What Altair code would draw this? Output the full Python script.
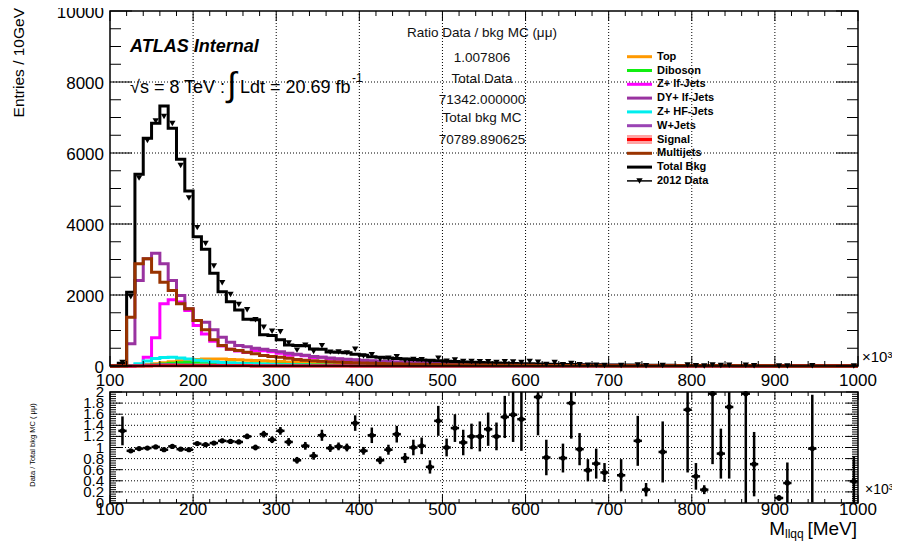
import altair as alt
import pandas as pd
import numpy as np

# ---------------- data ----------------
BIN_LOW = list(range(100, 1000, 10))          # 10 GeV bins, 100 .. 1000 (x10^3 MeV)
BIN_CENTER = [b + 5 for b in BIN_LOW]

TOTAL_BKG = [
    0, 75, 2076, 5400, 6414, 6836, 7324, 6695, 5822, 4930,
    3643, 3286, 2610, 2094, 1812, 1577, 1320, 1300, 880, 860,
    740, 590, 580, 570, 480, 470, 395, 385, 370, 330,
    300, 260, 245, 225, 210, 195, 180, 170, 160, 150,
    135, 125, 115, 105, 98, 90, 84, 77, 70, 64,
    60, 55, 50, 47, 44, 40, 37, 35, 33, 31,
    29, 27, 25, 23, 22, 20, 19, 18, 17, 16,
    15, 14, 13, 12, 11, 10, 10, 9, 9, 8,
    8, 7, 7, 6, 6, 6, 5, 5, 5, 4]

DATA_2012 = [
    None, 98, 1951, 5292, 6350, 6904, 7031, 6829, 5647, 4733,
    3898, 3450, 2819, 2345, 2011, 1735, 1584, 1300, 1091, 980,
    962, 649, 447, 587, 408, 573, 391, 393, 370, 475,
    282, 317, 189, 216, 260, 158, 180, 175, 104, 222,
    135, 169, 125, 126, 118, 120, 101, 119, 111, 97,
    130, 105, 41, 100, 36, 72, 36, 21, 23, 17,
    None, 14, None, 26, 5, None, 17, None, None, 27,
    7, 3, 26, 11, 19, None, 20, 6, None, None,
    1, 3, None, None, 6, None, None, None, None, 2]

MULTIJETS = [
    0, 0, 1375, 2878, 3019, 2643, 2361, 2127, 1752, 1610,
    1282, 1020, 738, 577, 470, 440, 390, 343, 296, 268,
    249, 215, 185, 165, 150, 135, 120, 110, 100, 92,
    85, 78, 72, 66, 61, 56, 52, 48, 44, 41,
    38, 35, 32, 30, 28, 26, 24, 22, 21, 19,
    18, 17, 16, 15, 14, 13, 12, 12, 11, 10,
    10, 9, 9, 8, 8, 8, 7, 7, 7, 6,
    6, 6, 5, 5, 5, 5, 4, 4, 4, 4,
    3, 3, 3, 3, 3, 3, 2, 2, 2, 2]

DY_LF = [
    0, 30, 625, 2408, 3019, 3178, 2878, 2408, 1986, 1610,
    1282, 1234, 1020, 811, 671, 577, 540, 500, 470, 440,
    400, 360, 330, 300, 270, 245, 225, 205, 190, 175,
    160, 148, 136, 125, 115, 106, 98, 90, 83, 77,
    71, 66, 61, 56, 52, 48, 45, 42, 39, 36,
    34, 32, 30, 28, 26, 24, 23, 21, 20, 19,
    18, 17, 16, 15, 14, 13, 12, 12, 11, 10,
    10, 9, 9, 8, 8, 7, 7, 7, 6, 6,
    6, 5, 5, 5, 5, 4, 4, 4, 4, 3]

Z_LF = [
    0, 0, 0, 30, 250, 794, 1752, 1864, 1800, 1560,
    1140, 900, 700, 560, 470, 420, 380, 440, 430, 400,
    360, 300, 320, 290, 240, 250, 200, 190, 180, 160,
    145, 135, 125, 115, 105, 97, 90, 83, 77, 71,
    65, 60, 56, 52, 48, 44, 41, 38, 35, 33,
    31, 29, 27, 25, 23, 22, 20, 19, 18, 17,
    16, 15, 14, 13, 12, 12, 11, 10, 10, 9,
    9, 8, 8, 8, 7, 7, 6, 6, 6, 6,
    5, 5, 5, 5, 4, 4, 4, 4, 4, 3]

TOP = [
    0, 0, 5, 15, 35, 60, 90, 120, 150, 170,
    185, 195, 200, 195, 185, 175, 165, 155, 145, 135,
    125, 115, 106, 98, 90, 83, 76, 70, 64, 59,
    54, 50, 46, 42, 39, 36, 33, 30, 28, 26,
    24, 22, 20, 19, 17, 16, 15, 14, 13, 12,
    11, 10, 10, 9, 8, 8, 7, 7, 6, 6,
    6, 5, 5, 5, 4, 4, 4, 4, 3, 3,
    3, 3, 3, 2, 2, 2, 2, 2, 2, 2,
    2, 2, 1, 1, 1, 1, 1, 1, 1, 1]

Z_HF = [
    0, 0, 15, 60, 140, 210, 240, 245, 225, 195,
    165, 140, 118, 100, 85, 72, 62, 54, 47, 41,
    36, 32, 28, 25, 22, 20, 18, 16, 14, 13,
    12, 11, 10, 9, 8, 8, 7, 7, 6, 6,
    5, 5, 5, 4, 4, 4, 3, 3, 3, 3,
    3, 3, 2, 2, 2, 2, 2, 2, 2, 2,
    2, 2, 1, 1, 1, 1, 1, 1, 1, 1,
    1, 1, 1, 1, 1, 1, 1, 1, 1, 1,
    1, 1, 1, 1, 1, 1, 0, 0, 0, 0]

DIBOSON = [
    0, 0, 2, 8, 20, 35, 55, 75, 90, 100,
    105, 105, 100, 95, 88, 80, 72, 65, 58, 52,
    47, 42, 38, 34, 30, 27, 24, 22, 20, 18,
    16, 15, 14, 13, 12, 11, 10, 9, 8, 8,
    7, 7, 6, 6, 5, 5, 5, 4, 4, 4,
    4, 3, 3, 3, 3, 3, 2, 2, 2, 2,
    2, 2, 2, 2, 2, 1, 1, 1, 1, 1,
    1, 1, 1, 1, 1, 1, 1, 1, 1, 1,
    1, 1, 1, 1, 1, 1, 1, 1, 1, 1]

W_JETS = [
    0, 0, 3, 10, 20, 28, 32, 33, 30, 27,
    24, 21, 18, 16, 14, 12, 11, 10, 9, 8,
    7, 7, 6, 6, 5, 5, 4, 4, 4, 3,
    3, 3, 3, 3, 2, 2, 2, 2, 2, 2,
    2, 2, 1, 1, 1, 1, 1, 1, 1, 1,
    1, 1, 1, 1, 1, 1, 1, 1, 1, 1,
    1, 1, 1, 1, 1, 1, 1, 1, 1, 1,
    0, 0, 0, 0, 0, 0, 0, 0, 0, 0,
    0, 0, 0, 0, 0, 0, 0, 0, 0, 0]

SIGNAL = [
    0, 0, 1, 2, 3, 4, 4, 4, 4, 4,
    4, 4, 4, 4, 4, 4, 4, 3, 3, 3,
    3, 3, 3, 3, 3, 3, 3, 3, 3, 3,
    2, 2, 2, 2, 2, 2, 2, 2, 2, 2,
    2, 2, 2, 2, 2, 2, 2, 2, 2, 2,
    1, 1, 1, 1, 1, 1, 1, 1, 1, 1,
    1, 1, 1, 1, 1, 1, 1, 1, 1, 1,
    1, 1, 1, 1, 1, 1, 1, 1, 1, 1,
    1, 1, 1, 1, 1, 1, 1, 1, 1, 1]

RATIO = [
    None, 1.30, 0.94, 0.98, 0.99, 1.01, 0.96, 1.02, 0.97, 0.96,
    1.07, 1.05, 1.08, 1.12, 1.11, 1.10, 1.20, 1.00, 1.24, 1.14,
    1.30, 1.10, 0.77, 1.03, 0.85, 1.22, 0.99, 1.02, 1.00, 1.44,
    0.94, 1.22, 0.77, 0.96, 1.24, 0.81, 1.00, 1.03, 0.65, 1.48,
    1.00, 1.35, 1.09, 1.20, 1.20, 1.33, 1.20, 1.55, 1.59, 1.51,
    None, 1.91, 0.82, None, 0.81, 1.80, 0.97, 0.59, 0.71, 0.55,
    None, 0.50, None, 1.12, 0.24, None, 0.92, None, None, 1.68,
    0.48, 0.24, 1.97, 0.89, 1.73, None, 1.97, 0.70, None, None,
    0.09, 0.36, None, None, 0.98, None, None, None, None, 0.39]

RATIO_ERR = [
    None, 0.26, 0.03, 0.02, 0.02, 0.02, 0.02, 0.02, 0.02, 0.02,
    0.03, 0.03, 0.03, 0.04, 0.04, 0.04, 0.05, 0.05, 0.06, 0.06,
    0.07, 0.07, 0.06, 0.07, 0.07, 0.10, 0.07, 0.07, 0.07, 0.14,
    0.07, 0.14, 0.07, 0.09, 0.15, 0.09, 0.14, 0.15, 0.12, 0.27,
    0.16, 0.25, 0.23, 0.23, 0.27, 0.30, 0.25, 0.38, 0.49, 0.57,
    None, 0.69, 0.32, None, 0.26, 0.64, 0.29, 0.20, 0.27, 0.17,
    None, 0.29, None, 0.45, 0.12, None, 0.55, None, None, 1.13,
    0.24, 0.08, 1.27, 0.45, 1.29, None, 2.00, 0.58, None, None,
    0.05, 0.37, None, None, 0.97, None, None, None, None, 0.45]

for arr in [TOTAL_BKG, DATA_2012, MULTIJETS, DY_LF, Z_LF, TOP, Z_HF, DIBOSON, W_JETS, SIGNAL, RATIO, RATIO_ERR]:
    assert len(arr) == len(BIN_LOW)

LEGEND_NAMES = ["Top", "Diboson", "Z+ lf-Jets", "DY+ lf-Jets", "Z+ HF-Jets", "W+Jets",
                "Signal", "Multijets", "Total Bkg", "2012 Data"]
INFO_LINES = ["Ratio Data / bkg MC (\u03bc\u03bc)", "1.007806", "Total Data", "71342.000000",
              "Total bkg MC", "70789.890625"]
X_TICKS = [100, 200, 300, 400, 500, 600, 700, 800, 900, 1000]
X_LABELS = ["100", "200", "300", "400", "500", "600", "700", "800", "900", "1000"]
MAIN_Y_TICKS = [0, 2000, 4000, 6000, 8000, 10000]
MAIN_Y_LABELS = ["0", "2000", "4000", "6000", "8000", "10000"]
RATIO_Y_TICKS = [0, 0.2, 0.4, 0.6, 0.8, 1.0, 1.2, 1.4, 1.6, 1.8, 2.0]
RATIO_Y_LABELS = ["0", "0.2", "0.4", "0.6", "0.8", "1", "1.2", "1.4", "1.6", "1.8", "2"]

# ---------------- styles / layout ----------------
COLORS = {"Top": "#ff9900", "Diboson": "#11ee11", "Z+ lf-Jets": "#ff00ff", "DY+ lf-Jets": "#9933a0",
          "Z+ HF-Jets": "#00eeee", "W+Jets": "#9a44b4", "Signal": "#ff0000", "Multijets": "#993300",
          "Total Bkg": "#000000", "2012 Data": "#000000"}
W, H = 748, 492
MAIN_H = 355
R_TOP, R_BOT = 381, 492
FONT = "Liberation Sans"

XS = alt.Scale(domain=[100, 1000], nice=False, zero=False)


def ym():
    return alt.Scale(domain=[0, 10000], range=[MAIN_H, 0], nice=False, zero=False)


def yr():
    return alt.Scale(domain=[0, 2], range=[R_BOT, R_TOP], nice=False, zero=False)


one = pd.DataFrame({"k": [0]})
layers = []

# ---------------- grid ----------------
dots = dict(color="black", strokeWidth=1, strokeDash=[1, 2])
gx = pd.DataFrame({"v": X_TICKS[1:-1]})
layers.append(alt.Chart(gx).mark_rule(**dots).encode(
    x=alt.X("v:Q", scale=XS, axis=None), y=alt.value(0), y2=alt.value(MAIN_H)))
layers.append(alt.Chart(gx).mark_rule(**dots).encode(
    x=alt.X("v:Q", scale=XS, axis=None), y=alt.value(R_TOP), y2=alt.value(R_BOT)))
layers.append(alt.Chart(pd.DataFrame({"v": MAIN_Y_TICKS[1:-1]})).mark_rule(**dots).encode(
    y=alt.Y("v:Q", scale=ym(), axis=None), x=alt.value(0), x2=alt.value(W)))
layers.append(alt.Chart(pd.DataFrame({"v": RATIO_Y_TICKS[1:-1]})).mark_rule(**dots).encode(
    y=alt.Y("v:Q", scale=yr(), axis=None), x=alt.value(0), x2=alt.value(W)))

# ---------------- histograms ----------------
SERIES = [("Top", TOP, 3), ("Diboson", DIBOSON, 3), ("Z+ lf-Jets", Z_LF, 3), ("DY+ lf-Jets", DY_LF, 3),
          ("Z+ HF-Jets", Z_HF, 3), ("W+Jets", W_JETS, 3), ("Total Bkg", TOTAL_BKG, 3),
          ("Signal", SIGNAL, 3), ("Multijets", MULTIJETS, 3)]
rows = []
for name, vals, _ in SERIES:
    for e, v in zip(BIN_LOW, vals):
        rows.append({"series": name, "x": e, "y": v})
    rows.append({"series": name, "x": 1000, "y": vals[-1]})
hist = pd.DataFrame(rows)
for name, vals, sw in SERIES:
    layers.append(alt.Chart(hist).transform_filter(alt.datum.series == name).mark_line(
        interpolate="step-after", color=COLORS[name], strokeWidth=sw).encode(
        x=alt.X("x:Q", scale=XS, axis=None), y=alt.Y("y:Q", scale=ym(), axis=None)))

# data points (inverted triangles)
pts = pd.DataFrame({"x": BIN_CENTER, "y": DATA_2012}).dropna()
layers.append(alt.Chart(pts).mark_point(shape="triangle-down", filled=True, size=40, color="black",
                                        opacity=1).encode(
    x=alt.X("x:Q", scale=XS, axis=None), y=alt.Y("y:Q", scale=ym(), axis=None)))

# ---------------- ratio panel ----------------
rdf = pd.DataFrame({"x": BIN_CENTER, "r": RATIO, "e": RATIO_ERR}).dropna()
rbase = alt.Chart(rdf).transform_calculate(
    lo="datum.x - 5", hi="datum.x + 5",
    rlo="max(0, datum.r - datum.e)", rhi="min(2, datum.r + datum.e)")
layers.append(rbase.mark_rule(color="black", strokeWidth=2.5).encode(
    x=alt.X("x:Q", scale=XS, axis=None), y=alt.Y("rlo:Q", scale=yr(), axis=None), y2="rhi:Q"))
layers.append(rbase.mark_rule(color="black", strokeWidth=2.5).encode(
    x=alt.X("lo:Q", scale=XS, axis=None), x2="hi:Q", y=alt.Y("r:Q", scale=yr(), axis=None)))
layers.append(rbase.mark_circle(color="black", size=28, opacity=1).encode(
    x=alt.X("x:Q", scale=XS, axis=None), y=alt.Y("r:Q", scale=yr(), axis=None)))

# ---------------- ticks (inside, ROOT style) ----------------
def hticks(vals, scale, length):
    df = pd.DataFrame({"v": vals})
    b = alt.Chart(df).mark_rule(color="black", strokeWidth=1)
    return [b.encode(y=alt.Y("v:Q", scale=scale, axis=None), x=alt.value(0), x2=alt.value(length)),
            b.encode(y=alt.Y("v:Q", scale=scale, axis=None), x=alt.value(W - length), x2=alt.value(W))]


def vticks(vals, ybot, ytop, length):
    df = pd.DataFrame({"v": vals})
    b = alt.Chart(df).mark_rule(color="black", strokeWidth=1)
    return [b.encode(x=alt.X("v:Q", scale=XS, axis=None), y=alt.value(ybot), y2=alt.value(ybot - length)),
            b.encode(x=alt.X("v:Q", scale=XS, axis=None), y=alt.value(ytop), y2=alt.value(ytop + length))]


main_y_minor = [v for v in range(0, 10001, 500) if v % 2000]
x_minor = [v for v in range(100, 1001, 20) if v % 100]
ratio_y_minor = [round(v, 2) for v in np.arange(0, 2.0001, 0.04) if round(v * 5, 4) % 1 > 1e-6]
layers += hticks(MAIN_Y_TICKS, ym(), 22)
layers += hticks(main_y_minor, ym(), 11)
layers += vticks(X_TICKS, MAIN_H, 0, 10)
layers += vticks(x_minor, MAIN_H, 0, 5)
layers += hticks(RATIO_Y_TICKS, yr(), 12)
layers += hticks(ratio_y_minor, yr(), 6)
layers += vticks(X_TICKS, R_BOT, R_TOP, 8)
layers += vticks(x_minor, R_BOT, R_TOP, 4)

# frames
for (y1, y2) in [(0, MAIN_H), (R_TOP, R_BOT)]:
    layers.append(alt.Chart(one).mark_rect(fillOpacity=0, stroke="black", strokeWidth=1.5).encode(
        x=alt.value(0), x2=alt.value(W), y=alt.value(y1), y2=alt.value(y2)))

# ---------------- tick labels ----------------
txt = dict(font=FONT, color="black")
layers.append(alt.Chart(pd.DataFrame({"v": MAIN_Y_TICKS, "t": MAIN_Y_LABELS})).mark_text(
    align="right", baseline="middle", fontSize=17, dy=2, **txt).encode(
    x=alt.value(-6), y=alt.Y("v:Q", scale=ym(), axis=None), text="t:N"))
layers.append(alt.Chart(pd.DataFrame({"v": RATIO_Y_TICKS, "t": RATIO_Y_LABELS})).mark_text(
    align="right", baseline="middle", fontSize=15, **txt).encode(
    x=alt.value(-6), y=alt.Y("v:Q", scale=yr(), axis=None), text="t:N"))
xl = pd.DataFrame({"v": X_TICKS, "t": X_LABELS})
layers.append(alt.Chart(xl).mark_text(align="center", baseline="middle", fontSize=17, **txt).encode(
    x=alt.X("v:Q", scale=XS, axis=None), y=alt.value(370), text="t:N"))
layers.append(alt.Chart(xl).mark_text(align="center", baseline="middle", fontSize=17, **txt).encode(
    x=alt.X("v:Q", scale=XS, axis=None), y=alt.value(499), text="t:N"))


def label(text, x, y, size, align="left", baseline="middle", angle=0, weight="normal", style="normal",
          color="black"):
    kw = dict(align=align, baseline=baseline, fontSize=size, font=FONT, color=color,
              fontWeight=weight, fontStyle=style)
    if angle:
        kw["angle"] = angle
    return alt.Chart(one).mark_text(**kw).encode(x=alt.value(x), y=alt.value(y), text=alt.value(text))


layers.append(label("\u00d710\u00b3", 752, 346, 15))
layers.append(label("\u00d710\u00b3", 755, 479, 14))

# axis titles
layers.append(label("Entries / 10GeV", -91, -3, 15.5, align="right", angle=270))
layers.append(label("Data / Total bkg MC ( \u03bc\u03bc)", -77, 434, 7.5, align="center", angle=270))
layers.append(label("M", 675, 518, 19, align="right"))
layers.append(label("llqq", 675, 523, 12, align="left"))
layers.append(label("[MeV]", 747, 518, 19, align="right"))

# ATLAS labels
layers.append(label("ATLAS Internal", 20, 36, 18, weight="bold", style="italic"))
layers.append(label("\u221as = 8 TeV :", 20, 77, 18))
layers.append(label("\u222b", 122, 75, 34, align="center"))
layers.append(label("Ldt = 20.69 fb", 130, 77, 18))
layers.append(label("-1", 242, 67, 12))

# info block
for i, s in enumerate(INFO_LINES):
    yy = [22, 47, 68, 89, 107, 129][i]
    layers.append(label(s, 372, yy, 13.5, align="center", color="#111111"))

# legend
LX1, LX2, LTX = 517, 542, 547
for i, name in enumerate(LEGEND_NAMES):
    yy = 45.7 + i * 13.8
    c = COLORS[name]
    if name == "Signal":
        layers.append(alt.Chart(one).mark_rect(fill="#ff8c8c", opacity=0.8).encode(
            x=alt.value(LX1), x2=alt.value(LX2), y=alt.value(yy - 4.5), y2=alt.value(yy + 4.5)))
    if name == "2012 Data":
        layers.append(alt.Chart(one).mark_rule(color=c, strokeWidth=1.5).encode(
            x=alt.value(LX1), x2=alt.value(LX2), y=alt.value(yy)))
        layers.append(alt.Chart(one).mark_point(shape="triangle-down", filled=True, size=40, color="black",
                                                opacity=1).encode(
            x=alt.value((LX1 + LX2) / 2), y=alt.value(yy)))
    else:
        layers.append(alt.Chart(one).mark_rule(color=c, strokeWidth=3).encode(
            x=alt.value(LX1), x2=alt.value(LX2), y=alt.value(yy)))
    layers.append(label(name, LTX, yy, 11, weight="bold"))

chart = alt.layer(*layers).resolve_scale(y="independent").properties(
    width=W, height=H,
    padding={"left": 102, "top": 3, "right": 34, "bottom": 38},
    autosize=alt.AutoSizeParams(type="none"),
).configure_view(strokeWidth=0)

chart.save("out.html", embed_options={"renderer": "svg", "actions": False})
